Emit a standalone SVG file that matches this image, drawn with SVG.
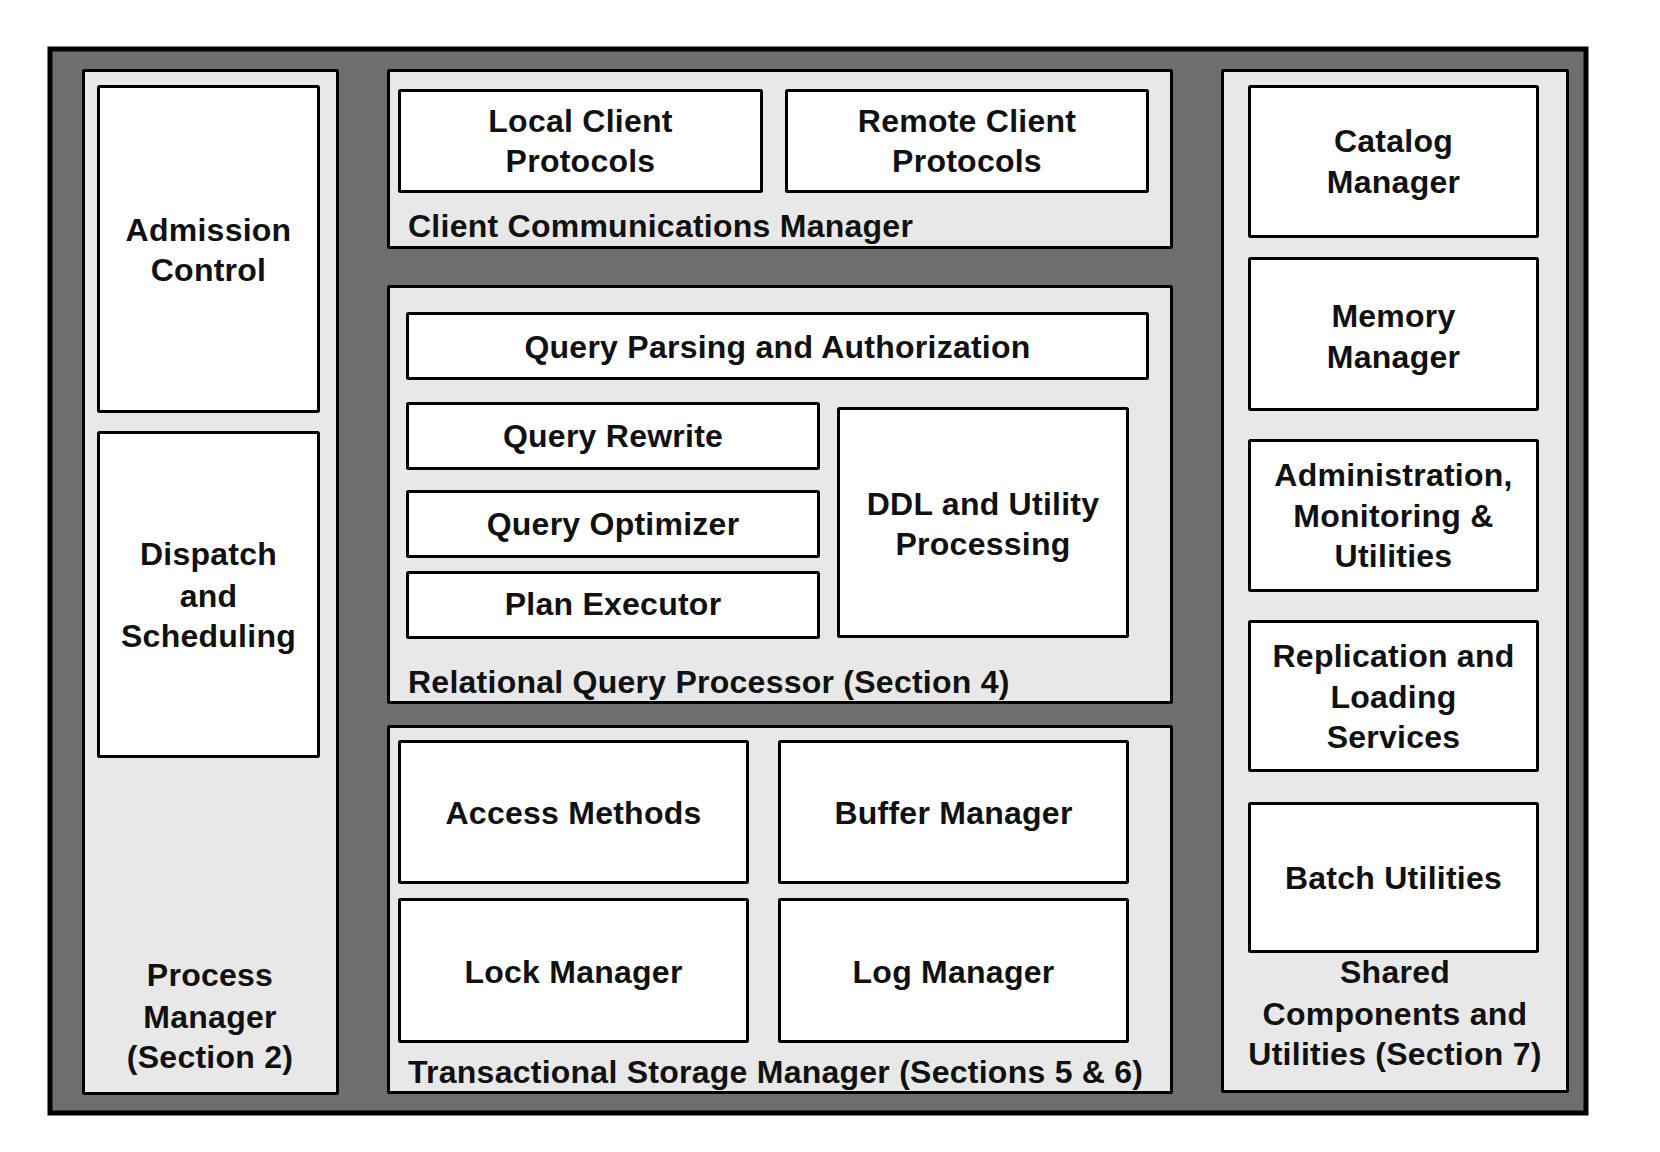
<svg xmlns="http://www.w3.org/2000/svg" width="1660" height="1152" viewBox="0 0 1660 1152">
<style>
.frame{fill:#6e6e6e;stroke:#000;stroke-width:5}
.panel{fill:#e8e8e8;stroke:#000;stroke-width:3}
.box{fill:#fff;stroke:#000;stroke-width:3}
text{font-family:"Liberation Sans",Arial,Helvetica,sans-serif;font-weight:bold;font-size:32px;fill:#111;letter-spacing:0.25px}
.c{text-anchor:middle}
</style>
<rect width="1660" height="1152" fill="#fff"/>
<rect class="frame" x="50" y="49" width="1536" height="1064"/>

<g id="process-manager">
<rect class="panel" x="83.5" y="70.5" width="254" height="1023" rx="1"/>
<text class="c" x="210" y="986">Process</text>
<text class="c" x="210" y="1028">Manager</text>
<text class="c" x="210" y="1068">(Section 2)</text>
</g>
<g id="admission-control">
<rect class="box" x="98.5" y="86.5" width="220" height="325" rx="1"/>
<text class="c" x="208.5" y="241">Admission</text>
<text class="c" x="208.5" y="281">Control</text>
</g>
<g id="dispatch">
<rect class="box" x="98.5" y="432.5" width="220" height="324" rx="1"/>
<text class="c" x="208.5" y="565">Dispatch</text>
<text class="c" x="208.5" y="607">and</text>
<text class="c" x="208.5" y="647">Scheduling</text>
</g>

<g id="client-comm">
<rect class="panel" x="388.5" y="70.5" width="783" height="177" rx="1"/>
<text x="408" y="237">Client Communications Manager</text>
</g>
<g id="local-client">
<rect class="box" x="399.5" y="90.5" width="362" height="101" rx="1"/>
<text class="c" x="580.5" y="132">Local Client</text>
<text class="c" x="580.5" y="172">Protocols</text>
</g>
<g id="remote-client">
<rect class="box" x="786.5" y="90.5" width="361" height="101" rx="1"/>
<text class="c" x="967" y="132">Remote Client</text>
<text class="c" x="967" y="172">Protocols</text>
</g>

<g id="rqp">
<rect class="panel" x="388.5" y="286.5" width="783" height="416" rx="1"/>
<text x="408" y="693">Relational Query Processor (Section 4)</text>
</g>
<g id="query-parsing">
<rect class="box" x="407.5" y="313.5" width="740" height="65" rx="1"/>
<text class="c" x="777.5" y="358">Query Parsing and Authorization</text>
</g>
<g id="query-rewrite">
<rect class="box" x="407.5" y="403.5" width="411" height="65" rx="1"/>
<text class="c" x="613" y="447">Query Rewrite</text>
</g>
<g id="query-optimizer">
<rect class="box" x="407.5" y="491.5" width="411" height="65" rx="1"/>
<text class="c" x="613" y="535">Query Optimizer</text>
</g>
<g id="plan-executor">
<rect class="box" x="407.5" y="572.5" width="411" height="65" rx="1"/>
<text class="c" x="613" y="615">Plan Executor</text>
</g>
<g id="ddl">
<rect class="box" x="838.5" y="408.5" width="289" height="228" rx="1"/>
<text class="c" x="983" y="515">DDL and Utility</text>
<text class="c" x="983" y="555">Processing</text>
</g>

<g id="tsm">
<rect class="panel" x="388.5" y="726.5" width="783" height="366" rx="1"/>
<text x="408" y="1083">Transactional Storage Manager (Sections 5 &amp; 6)</text>
</g>
<g id="access-methods">
<rect class="box" x="399.5" y="741.5" width="348" height="141" rx="1"/>
<text class="c" x="573.5" y="824">Access Methods</text>
</g>
<g id="buffer-manager">
<rect class="box" x="779.5" y="741.5" width="348" height="141" rx="1"/>
<text class="c" x="953.5" y="824">Buffer Manager</text>
</g>
<g id="lock-manager">
<rect class="box" x="399.5" y="899.5" width="348" height="142" rx="1"/>
<text class="c" x="573.5" y="983">Lock Manager</text>
</g>
<g id="log-manager">
<rect class="box" x="779.5" y="899.5" width="348" height="142" rx="1"/>
<text class="c" x="953.5" y="983">Log Manager</text>
</g>

<g id="shared">
<rect class="panel" x="1222.5" y="70.5" width="345" height="1021" rx="1"/>
<text class="c" x="1395" y="983">Shared</text>
<text class="c" x="1395" y="1025">Components and</text>
<text class="c" x="1395" y="1065">Utilities (Section 7)</text>
</g>
<g id="catalog-manager">
<rect class="box" x="1249.5" y="86.5" width="288" height="150" rx="1"/>
<text class="c" x="1393.5" y="152">Catalog</text>
<text class="c" x="1393.5" y="193">Manager</text>
</g>
<g id="memory-manager">
<rect class="box" x="1249.5" y="258.5" width="288" height="151" rx="1"/>
<text class="c" x="1393.5" y="327">Memory</text>
<text class="c" x="1393.5" y="368">Manager</text>
</g>
<g id="admin">
<rect class="box" x="1249.5" y="440.5" width="288" height="150" rx="1"/>
<text class="c" x="1393.5" y="486">Administration,</text>
<text class="c" x="1393.5" y="527">Monitoring &amp;</text>
<text class="c" x="1393.5" y="567">Utilities</text>
</g>
<g id="replication">
<rect class="box" x="1249.5" y="621.5" width="288" height="149" rx="1"/>
<text class="c" x="1393.5" y="667">Replication and</text>
<text class="c" x="1393.5" y="708">Loading</text>
<text class="c" x="1393.5" y="748">Services</text>
</g>
<g id="batch">
<rect class="box" x="1249.5" y="803.5" width="288" height="148" rx="1"/>
<text class="c" x="1393.5" y="889">Batch Utilities</text>
</g>
<g id="connectors"></g>
</svg>
